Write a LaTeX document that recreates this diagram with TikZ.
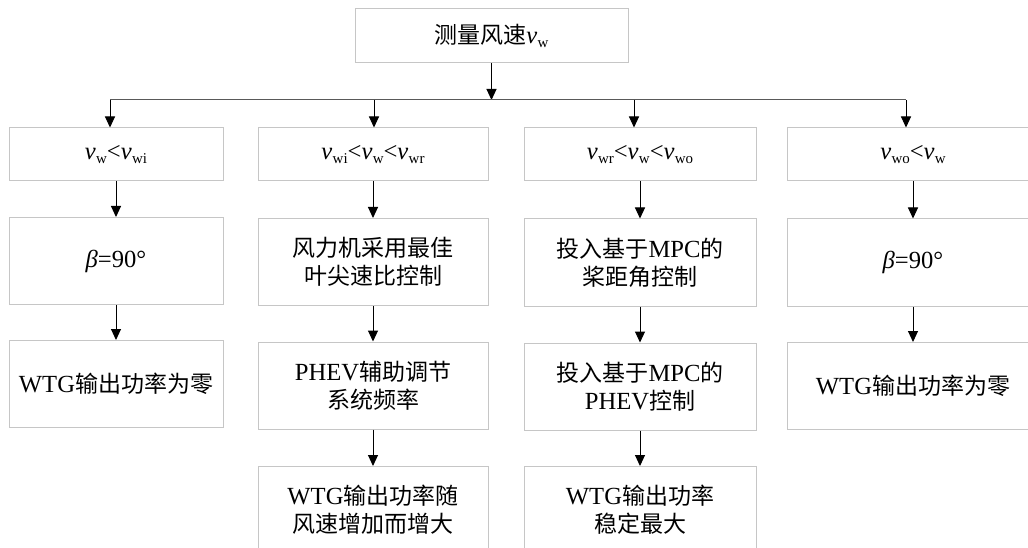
\documentclass[tikz,border=0pt]{standalone}
\usepackage{fontspec}
\setmainfont[Scale=1.07]{Liberation Serif}
\newfontfamily\cjk{Noto Sans CJK SC}
\usetikzlibrary{arrows.meta}
% wind speed symbol with an upright subscript
\newcommand\vsym[1]{\textit{v}\kern0.3pt\raisebox{-0.35ex}{\fontsize{14}{14}\selectfont #1}}
\tikzset{
  box/.style={draw=gray!45, line width=1pt, fill=white, align=center,
    font=\fontsize{23}{28}\selectfont, inner sep=0pt},
  cond/.style={box, minimum height=53},
  act/.style={box, minimum height=87},
  arr/.style={-{Triangle[length=11pt,width=10pt]}, line width=1pt, black},
}
\begin{document}
\begin{tikzpicture}[x=1pt,y=-1pt]
\useasboundingbox (0,0) rectangle (1028,548);
\clip (0,0) rectangle (1028,548);
\fill[white] (0,0) rectangle (1028,548);

% measurement box
\node[box, minimum width=273, minimum height=54] (top) at (491.5,36) {{\cjk 测量风速}\vsym{w}};

% branch bar
\coordinate (bus) at (492,100);
\coordinate (b1) at (110,100);
\coordinate (b2) at (374,100);
\coordinate (b3) at (634,100);
\coordinate (b4) at (906,100);

% column 1
\node[cond, minimum width=214] (c11) at (116,154.5) {\vsym{w}<\vsym{wi}};
\node[act, minimum width=214] (c12) at (116,261) {\textit{β}=90°};
\node[act, minimum width=214] (c13) at (116,384) {WTG{\cjk 输出功率为零}};

% column 2
\node[cond, minimum width=230] (c21) at (373,154.5) {\vsym{wi}<\vsym{w}<\vsym{wr}};
\node[act, minimum width=230] (c22) at (373,262) {{\cjk 风力机采用最佳}\\{\cjk 叶尖速比控制}};
\node[act, minimum width=230] (c23) at (373,385.5) {PHEV{\cjk 辅助调节}\\{\cjk 系统频率}};
\node[act, minimum width=230] (c24) at (373,510) {WTG{\cjk 输出功率随}\\{\cjk 风速增加而增大}};

% column 3
\node[cond, minimum width=232] (c31) at (640,154.5) {\vsym{wr}<\vsym{w}<\vsym{wo}};
\node[act, minimum width=232] (c32) at (640,262.5) {{\cjk 投入基于}MPC{\cjk 的}\\{\cjk 桨距角控制}};
\node[act, minimum width=232] (c33) at (640,386.5) {{\cjk 投入基于}MPC{\cjk 的}\\PHEV{\cjk 控制}};
\node[act, minimum width=232] (c34) at (640,510) {WTG{\cjk 输出功率}\\{\cjk 稳定最大}};

% column 4
\node[cond, minimum width=252] (c41) at (913,154.5) {\vsym{wo}<\vsym{w}};
\node[act, minimum width=252] (c42) at (913,262.5) {\textit{β}=90°};
\node[act, minimum width=252] (c43) at (913,386) {WTG{\cjk 输出功率为零}};

% connectors
\draw[arr] (top) -- (top |- bus);
\draw[line width=1pt, gray!70!black] (b1) -- (b4);
\draw[arr] (b1) -- (b1 |- c11.north);
\draw[arr] (b2) -- (b2 |- c21.north);
\draw[arr] (b3) -- (b3 |- c31.north);
\draw[arr] (b4) -- (b4 |- c41.north);

\draw[arr] (c11) -- (c12);
\draw[arr] (c12) -- (c13);
\draw[arr] (c21) -- (c22);
\draw[arr] (c22) -- (c23);
\draw[arr] (c23) -- (c24);
\draw[arr] (c31) -- (c32);
\draw[arr] (c32) -- (c33);
\draw[arr] (c33) -- (c34);
\draw[arr] (c41) -- (c42);
\draw[arr] (c42) -- (c43);
\end{tikzpicture}
\end{document}
